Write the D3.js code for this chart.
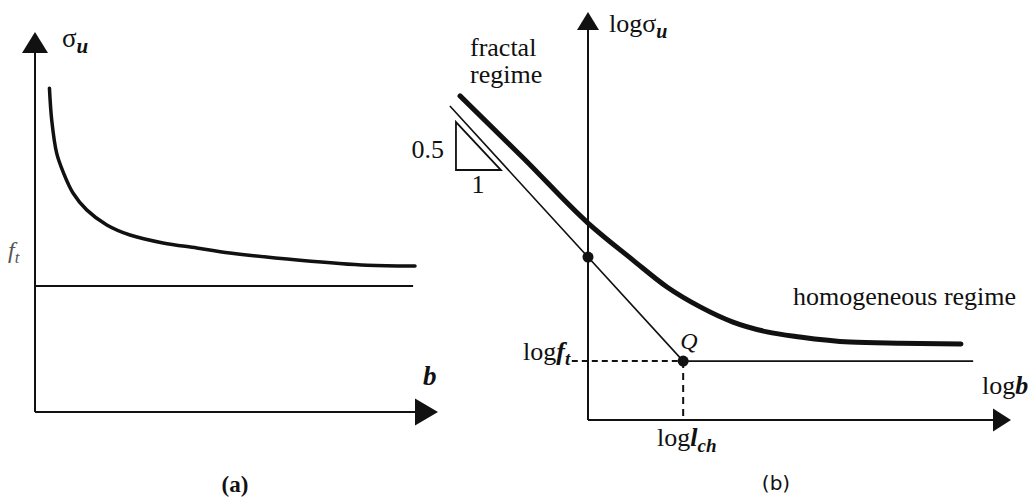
<!DOCTYPE html>
<html>
<head>
<meta charset="utf-8">
<script src="https://cdn.jsdelivr.net/npm/d3@7"></script>
<style>
  html, body { margin: 0; padding: 0; background: #fff; }
  svg { display: block; }
</style>
</head>
<body>
<svg id="chart" width="1034" height="499"></svg>
<script>
// ---- Panel (a): strength sigma_u versus size b (linear axes, schematic units) ----
const bA = [0.38, 0.44, 0.57, 0.75, 1.0, 1.36, 1.89, 2.5, 3.37, 4.26, 5.13, 6.97, 8.74, 10.0];
const sigmaA = [9.02, 8.13, 7.21, 6.66, 6.10, 5.63, 5.21, 4.93, 4.71, 4.57, 4.43, 4.23, 4.09, 4.07];
const ftA = 3.51;          // tensile strength asymptote
const ftAEnd = 9.95;       // right end of the asymptote line

// ---- Panel (b): log sigma_u versus log b (schematic units) ----
const logbB = [-3.16, -1.58, 0.0, 1.11, 1.95, 2.77, 3.58, 4.42, 5.23, 6.47, 7.70, 9.21];
const logSigmaB = [8.31, 6.70, 5.05, 4.10, 3.41, 2.90, 2.51, 2.26, 2.13, 2.00, 1.97, 1.95];
const fractalStart = [-3.41, 8.05]; // start of the slope -1/2 asymptote
const logLch = 2.35;                // point Q: log l_ch
const logFt = 1.51;                 // point Q: log f_t
const homogEnd = 9.51;              // right end of the horizontal asymptote
const dashStart = -0.4;             // dashed guide starts just left of the axis
const slopeTri = [[-3.26, 7.64], [-3.26, 6.41], [-2.15, 6.41]];

const SERIF = "'Liberation Serif', 'Times New Roman', serif";
const svg = d3.select("#chart").attr("font-family", SERIF);

// scales
const xA = d3.scaleLinear().domain([0, 10]).range([35, 415]);
const yA = d3.scaleLinear().domain([0, 10]).range([412, 53]);
const xB = d3.scaleLinear().domain([0, 10]).range([588, 993]);
const yB = d3.scaleLinear().domain([0, 10]).range([420, 30]);

const ink = "#111";

// arrow heads
function arrowUp(x, yBase, w, h) {
  return `M${x - w / 2},${yBase} L${x + w / 2},${yBase} L${x},${yBase - h} Z`;
}
function arrowRight(xBase, y, w, h) {
  return `M${xBase},${y - h / 2} L${xBase},${y + h / 2} L${xBase + w},${y} Z`;
}
function label(g, x, y, size) {
  return g.append("text").attr("x", x).attr("y", y).attr("font-size", size)
    .attr("font-family", SERIF).attr("fill", ink);
}

// ================= Panel (a) =================
const gA = svg.append("g");
gA.append("line").attr("x1", xA(0)).attr("y1", yA(0)).attr("x2", xA(0)).attr("y2", yA(10))
  .attr("stroke", ink).attr("stroke-width", 2);
gA.append("line").attr("x1", xA(0)).attr("y1", yA(0)).attr("x2", xA(10)).attr("y2", yA(0))
  .attr("stroke", ink).attr("stroke-width", 2);
gA.append("path").attr("d", arrowUp(xA(0), yA(10), 26, 21)).attr("fill", ink);
gA.append("path").attr("d", arrowRight(xA(10), yA(0), 23, 27)).attr("fill", ink);

// f_t asymptote
gA.append("line").attr("x1", xA(0)).attr("y1", yA(ftA)).attr("x2", xA(ftAEnd)).attr("y2", yA(ftA))
  .attr("stroke", ink).attr("stroke-width", 2);

// strength curve
const lineA = d3.line().x(d => xA(d[0])).y(d => yA(d[1])).curve(d3.curveCatmullRom.alpha(0.5));
gA.append("path").datum(d3.zip(bA, sigmaA)).attr("d", lineA)
  .attr("fill", "none").attr("stroke", ink).attr("stroke-width", 3.5).attr("stroke-linecap", "round");

// labels (a)
const sA = label(gA, 62, 47, 27);
sA.append("tspan").text("σ");
sA.append("tspan").attr("dy", 6).attr("font-size", 21).attr("font-style", "italic").attr("font-weight", "bold").text("u");

const ftLab = label(gA, 8, 258, 24).attr("font-style", "italic").attr("fill", "#555");
ftLab.append("tspan").text("f");
ftLab.append("tspan").attr("dy", 5).attr("font-size", 17).text("t");

label(gA, 423, 385, 27).attr("font-style", "italic").attr("font-weight", "bold").text("b");

label(gA, 235, 492, 23).attr("font-weight", "bold").attr("text-anchor", "middle").text("(a)");

// ================= Panel (b) =================
const gB = svg.append("g");
gB.append("line").attr("x1", xB(0)).attr("y1", yB(0)).attr("x2", xB(0)).attr("y2", yB(10))
  .attr("stroke", ink).attr("stroke-width", 2);
gB.append("line").attr("x1", xB(0)).attr("y1", yB(0)).attr("x2", xB(10)).attr("y2", yB(0))
  .attr("stroke", ink).attr("stroke-width", 2);
gB.append("path").attr("d", arrowUp(xB(0), yB(10), 22, 18)).attr("fill", ink);
gB.append("path").attr("d", arrowRight(xB(10), yB(0), 18, 23)).attr("fill", ink);

// dashed guides to Q
gB.append("line").attr("x1", xB(dashStart)).attr("y1", yB(logFt)).attr("x2", xB(logLch)).attr("y2", yB(logFt))
  .attr("stroke", ink).attr("stroke-width", 2).attr("stroke-dasharray", "6,4");
gB.append("line").attr("x1", xB(logLch)).attr("y1", yB(logFt)).attr("x2", xB(logLch)).attr("y2", yB(0))
  .attr("stroke", ink).attr("stroke-width", 2).attr("stroke-dasharray", "7,5");

// asymptotes: fractal (slope -1/2) and homogeneous (horizontal)
const lineB = d3.line().x(d => xB(d[0])).y(d => yB(d[1]));
gB.append("path").datum([fractalStart, [logLch, logFt], [homogEnd, logFt]]).attr("d", lineB)
  .attr("fill", "none").attr("stroke", ink).attr("stroke-width", 1.6);

// slope triangle
gB.append("path").datum(slopeTri).attr("d", d => lineB(d) + "Z")
  .attr("fill", "none").attr("stroke", ink).attr("stroke-width", 1.8);

// strength curve
const curveB = d3.line().x(d => xB(d[0])).y(d => yB(d[1])).curve(d3.curveMonotoneX);
gB.append("path").datum(d3.zip(logbB, logSigmaB)).attr("d", curveB)
  .attr("fill", "none").attr("stroke", ink).attr("stroke-width", 5).attr("stroke-linecap", "round");

// points: intercept of the fractal asymptote with the axis, and Q
const slope = (logFt - fractalStart[1]) / (logLch - fractalStart[0]);
const intercept = logFt - slope * logLch;
gB.append("circle").attr("cx", xB(0)).attr("cy", yB(intercept)).attr("r", 5.5).attr("fill", ink);
gB.append("circle").attr("cx", xB(logLch)).attr("cy", yB(logFt)).attr("r", 5.5).attr("fill", ink);

// labels (b)
const ls = label(gB, 609, 32, 26);
ls.append("tspan").text("logσ");
ls.append("tspan").attr("dy", 6).attr("font-size", 20).attr("font-style", "italic").attr("font-weight", "bold").text("u");

label(gB, 470, 56, 26).text("fractal");
label(gB, 470, 83, 26).text("regime");

label(gB, 444, 158, 26).attr("text-anchor", "end").text("0.5");
label(gB, 478, 193, 26).attr("text-anchor", "middle").text("1");

label(gB, 793, 305, 26).text("homogeneous regime");

label(gB, xB(logLch) - 3, 349, 24).attr("font-style", "italic").text("Q");

const lf = label(gB, 523, 360, 26);
lf.append("tspan").text("log");
lf.append("tspan").attr("font-style", "italic").attr("font-weight", "bold").text("f");
lf.append("tspan").attr("dy", 5).attr("font-size", 19).attr("font-style", "italic").attr("font-weight", "bold").text("t");

const ll = label(gB, 657, 446, 26);
ll.append("tspan").text("log");
ll.append("tspan").attr("font-style", "italic").attr("font-weight", "bold").text("l");
ll.append("tspan").attr("dy", 6).attr("font-size", 19).attr("font-style", "italic").attr("font-weight", "bold").text("ch");

const lb = label(gB, 982, 394, 26);
lb.append("tspan").text("log");
lb.append("tspan").attr("font-style", "italic").attr("font-weight", "bold").text("b");

gB.append("text").attr("x", 776).attr("y", 490).attr("font-size", 20).attr("fill", ink)
  .attr("text-anchor", "middle").attr("font-family", "'DejaVu Sans', sans-serif").text("(b)");
</script>
</body>
</html>
